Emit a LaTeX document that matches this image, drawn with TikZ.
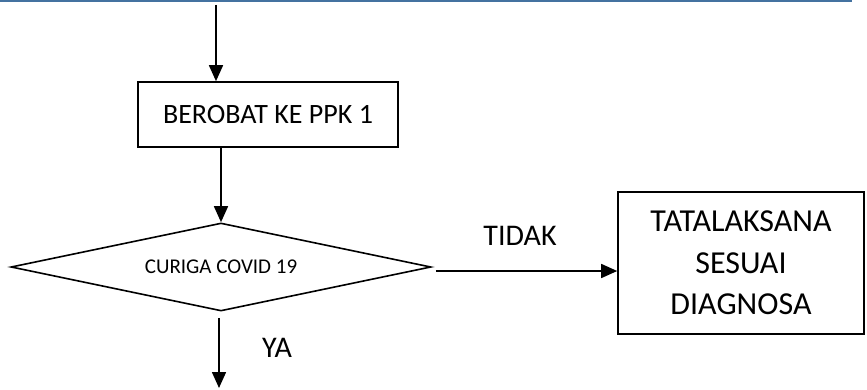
\documentclass[tikz,border=0pt]{standalone}
\usepackage{fontspec}
\setmainfont{Carlito}
\usetikzlibrary{shapes.geometric,arrows.meta}

\definecolor{topblue}{RGB}{68,114,160}

\tikzset{box_style/.style={draw, line width=1.6pt, inner sep=0pt, align=center,
    font=\fontsize{28}{42}\selectfont}}
\tikzset{dia_style/.style={diamond, draw, line width=1.6pt, inner sep=0pt, aspect=4.77,
    font=\fontsize{21}{24}\selectfont}}
\tikzset{lbl_style/.style={inner sep=0pt, font=\fontsize{30}{34}\selectfont}}
\tikzset{arr_style/.style={line width=1.6pt, -{Triangle[width=14pt,length=16pt]}}}

\begin{document}
\begin{tikzpicture}[x=1pt, y=1pt]
    \useasboundingbox (0,0) rectangle (867,389);
    \draw[topblue, line width=3pt] (0,388) -- (852,388);

    \coordinate (top) at (216,384);
    \coordinate (yaend) at (219,1);

    \node[box_style, minimum width=260pt, minimum height=65pt] (berobat) at (268,274.5) {BEROBAT KE PPK 1};
    \node[dia_style, minimum width=420pt, minimum height=88pt] (curiga) at (221,122) {CURIGA COVID 19};
    \node[box_style, minimum width=246pt, minimum height=142pt, font=\fontsize{32}{41.5}\selectfont] (tata) at (741,126) {TATALAKSANA\\SESUAI\\DIAGNOSA};
    \node[lbl_style] (ya) at (277,41) {YA};
    \node[lbl_style] (tidak) at (520,153) {TIDAK};

    \draw[arr_style] (top) -- (top |- berobat.north);
    \draw[arr_style] (berobat.south -| curiga.north) -- (curiga.north);
    \draw[arr_style] ([xshift=4pt,yshift=-4pt]curiga.east) -- ([yshift=-4pt]curiga.east -| tata.west);
    \draw[arr_style] ([xshift=-2pt,yshift=-6pt]curiga.south) -- (yaend);

\end{tikzpicture}
\end{document}
